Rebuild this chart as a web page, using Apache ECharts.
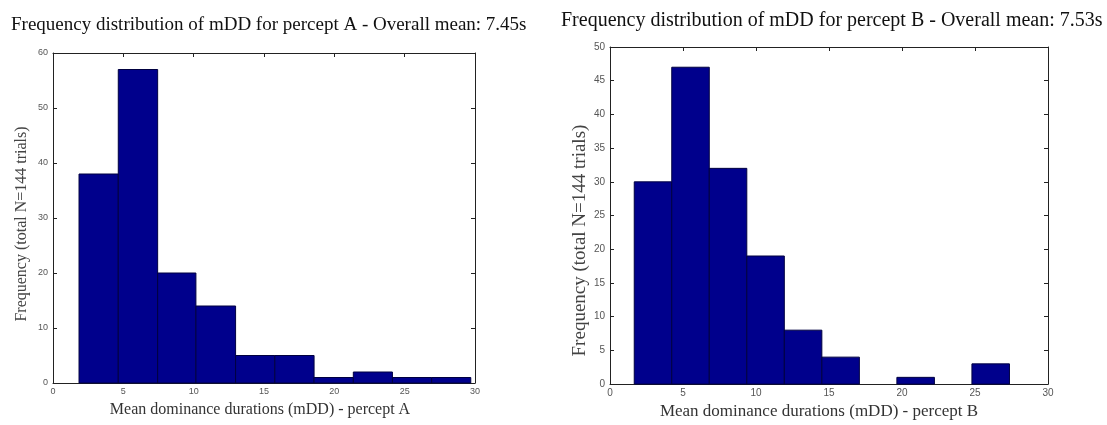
<!DOCTYPE html>
<html>
<head>
<meta charset="utf-8">
<script src="https://cdn.jsdelivr.net/npm/echarts@6/dist/echarts.min.js"></script>
<style>
  html, body { margin: 0; padding: 0; background: #fff; }
  #main { width: 1107px; height: 425px; }
</style>
</head>
<body>
<div id="main"></div>
<script>
  // histogram of mDD, percept A (10 bins, edges)
  var edgesA = [1.85, 4.64, 7.44, 10.16, 12.98, 15.77, 18.56, 21.35, 24.13, 26.92, 29.70];
  var countsA = [38, 57, 20, 14, 5, 5, 1, 2, 1, 1];
  // percept B
  var edgesB = [1.66, 4.23, 6.80, 9.37, 11.94, 14.51, 17.08, 19.65, 22.22, 24.79, 27.36];
  var countsB = [30, 47, 32, 19, 8, 4, 0, 1, 0, 3];

  var titleA = 'Frequency distribution of mDD for percept A - Overall mean: 7.45s';
  var titleB = 'Frequency distribution of mDD for percept B - Overall mean: 7.53s';
  var yName = 'Frequency (total N=144 trials)';
  var xNameA = 'Mean dominance durations (mDD) - percept A';
  var xNameB = 'Mean dominance durations (mDD) - percept B';

  var BAR = '#00008c';
  var SERIF = "'Liberation Serif', 'DejaVu Serif', serif";
  var SANS = "'Liberation Sans', sans-serif";

  function histData(edges, counts) {
    return counts.map(function (c, i) { return [edges[i], edges[i + 1], c]; });
  }

  function renderBar(params, api) {
    var c = api.value(2);
    if (!c) return null;
    var p0 = api.coord([api.value(0), c]);
    var p1 = api.coord([api.value(1), 0]);
    return {
      type: 'rect',
      shape: { x: p0[0], y: p0[1], width: p1[0] - p0[0], height: p1[1] - p0[1] },
      style: { fill: BAR, stroke: '#000040', lineWidth: 1 }
    };
  }

  var lineStyle = { color: '#222', width: 1 };

  function xAxisPair(gridIndex, name, nameGap, nameSize, labelSize, pad) {
    return [{
      type: 'value', gridIndex: gridIndex, min: 0, max: 30, interval: 5,
      name: name, nameLocation: 'middle', nameGap: nameGap,
      nameTextStyle: { fontFamily: SERIF, fontSize: nameSize, color: '#333', padding: pad },
      axisLine: { onZero: false, lineStyle: lineStyle },
      axisTick: { inside: true, length: 4, lineStyle: lineStyle },
      axisLabel: { fontFamily: SANS, fontSize: labelSize, color: '#555', margin: 4 },
      splitLine: { show: false }
    }, {
      type: 'value', gridIndex: gridIndex, position: 'top', min: 0, max: 30, interval: 5,
      axisLine: { onZero: false, lineStyle: lineStyle },
      axisTick: { inside: true, length: 4, lineStyle: lineStyle },
      axisLabel: { show: false },
      splitLine: { show: false }
    }];
  }

  function yAxisPair(gridIndex, max, interval, nameGap, nameSize, labelSize, pad) {
    return [{
      type: 'value', gridIndex: gridIndex, min: 0, max: max, interval: interval,
      name: yName, nameLocation: 'middle', nameGap: nameGap,
      nameTextStyle: { fontFamily: SERIF, fontSize: nameSize, color: '#444', padding: pad },
      axisLine: { show: true, onZero: false, lineStyle: lineStyle },
      axisTick: { show: true, inside: true, length: 4, lineStyle: lineStyle },
      axisLabel: { fontFamily: SANS, fontSize: labelSize, color: '#555', margin: 5 },
      splitLine: { show: false }
    }, {
      type: 'value', gridIndex: gridIndex, position: 'right', min: 0, max: max, interval: interval,
      axisLine: { show: true, onZero: false, lineStyle: lineStyle },
      axisTick: { show: true, inside: true, length: 4, lineStyle: lineStyle },
      axisLabel: { show: false },
      splitLine: { show: false }
    }];
  }

  var chart = echarts.init(document.getElementById('main'), null, { renderer: 'canvas' });

  chart.setOption({
    backgroundColor: '#fff',
    animation: false,
    title: [{
      text: titleA, left: 6, top: 11,
      textStyle: { fontFamily: SERIF, fontSize: 19, fontWeight: 'normal', color: '#111' }
    }, {
      text: titleB, left: 556, top: 6,
      textStyle: { fontFamily: SERIF, fontSize: 20, fontWeight: 'normal', color: '#111' }
    }],
    grid: [
      { left: 53, top: 53, width: 422, height: 330 },
      { left: 610, top: 47, width: 438, height: 345 }
    ],
    xAxis: xAxisPair(0, xNameA, 19, 16, 9, [0, 8, 0, 0]).concat(xAxisPair(1, xNameB, 17, 17, 10, [0, 20, 0, 0])),
    yAxis: yAxisPair(0, 60, 10, 23, 16, 9, [0, 12, 0, 0]).concat(yAxisPair(1, 50, 5, 17, 19, 10, [0, 50, 0, 0])),
    series: [{
      type: 'custom', xAxisIndex: 0, yAxisIndex: 0,
      renderItem: renderBar, encode: { x: [0, 1], y: 2 },
      data: histData(edgesA, countsA)
    }, {
      type: 'custom', xAxisIndex: 2, yAxisIndex: 2,
      renderItem: renderBar, encode: { x: [0, 1], y: 2 },
      data: histData(edgesB, countsB)
    }]
  });
</script>
</body>
</html>
